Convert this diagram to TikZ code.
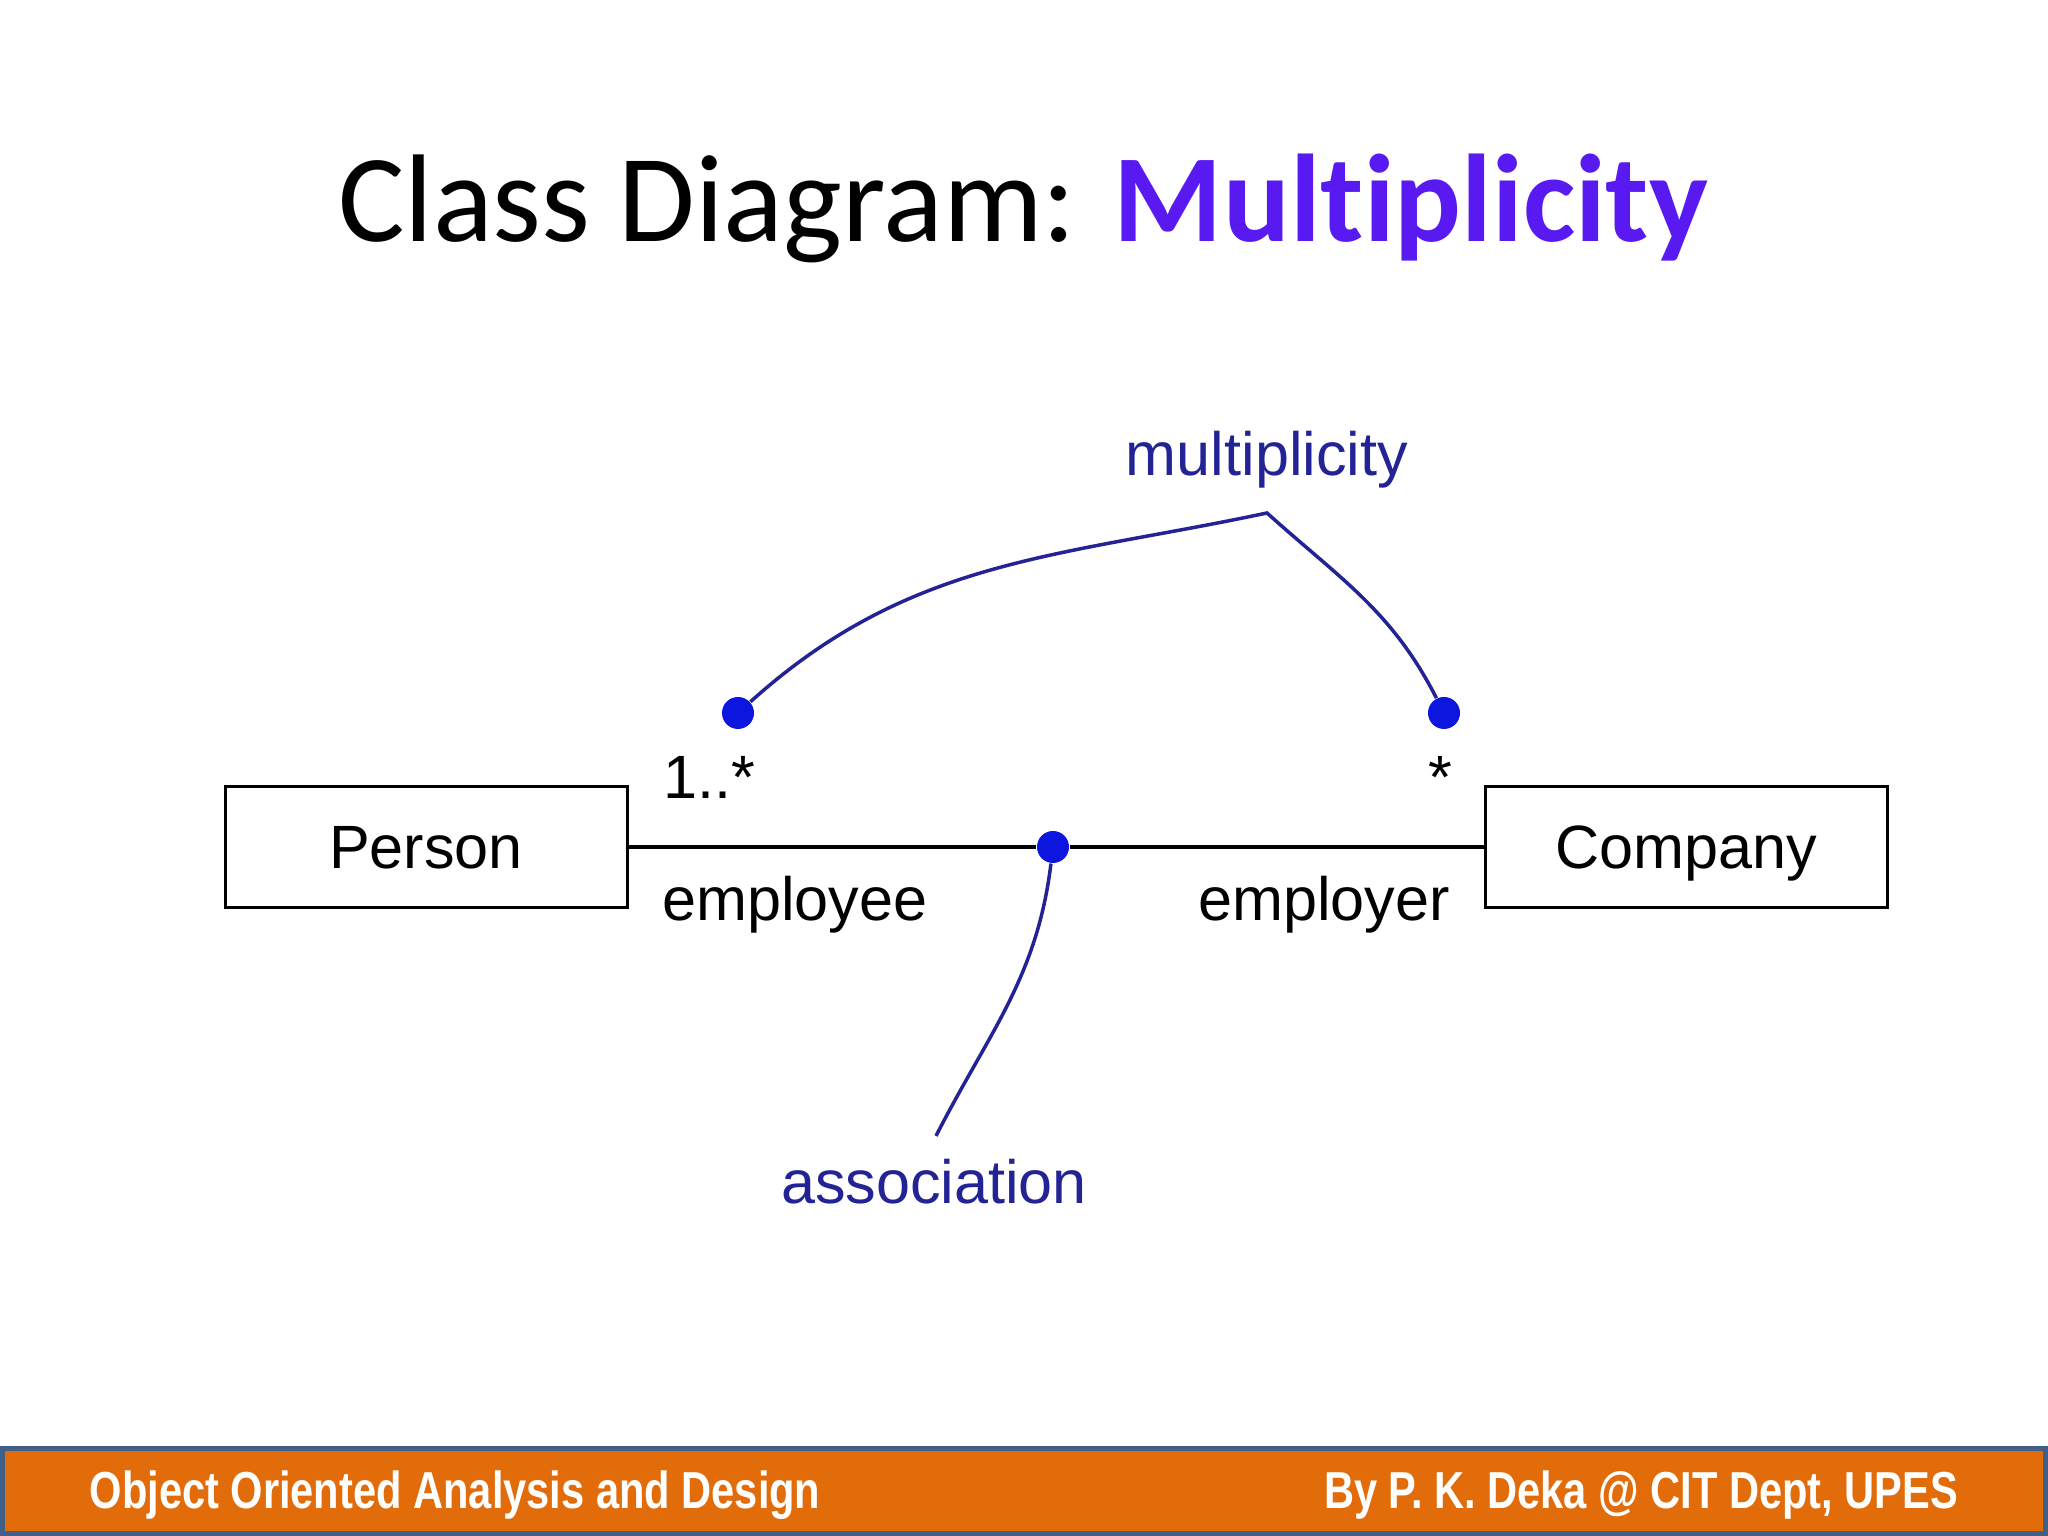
\documentclass[tikz,border=0pt]{standalone}
\usepackage{fontspec}
\setmainfont{Liberation Sans}
\newfontfamily\titlefont{Carlito}[Ligatures=NoCommon]
\newfontfamily\footfont{Liberation Sans}[FakeStretch=0.8]
\definecolor{titlepurple}{RGB}{88,26,240}
\definecolor{noteblue}{RGB}{35,35,150}
\definecolor{dotblue}{RGB}{12,22,222}
\definecolor{footorange}{RGB}{227,108,10}
\definecolor{footedge}{RGB}{65,95,135}

\tikzset{
  umltext/.style={font=\fontsize{17.4}{20}\selectfont},
  classbox/.style={umltext, draw, line width=0.03cm, minimum width=4.02cm, minimum height=1.21cm, text height=0.44cm, text depth=0pt},
  notetext/.style={umltext, text=noteblue},
  bluedot/.style={circle, fill=dotblue, inner sep=0pt, minimum size=0.32cm},
  noteline/.style={draw=noteblue, line width=0.035cm},
  foottext/.style={text=white, inner sep=0pt, font=\footfont\bfseries\fontsize{14.8}{17}\selectfont}
}

\begin{document}
\begin{tikzpicture}
\useasboundingbox (0,0) rectangle (20.48,15.36);
\fill[white] (0,0) rectangle (20.48,15.36);

\node[anchor=base, font=\titlefont\fontsize{35.5}{40}\selectfont] (title) at (10.23,12.94) {Class Diagram: \textcolor{titlepurple}{\bfseries Multiplicity}};

\node[classbox] (person) at (4.26,6.89) {Person};
\node[classbox] (company) at (16.865,6.89) {Company};
\node[bluedot] (assocdot) at (10.53,6.89) {};
\draw[line width=0.035cm] (person.east) -- (assocdot) -- (company.west);

\node[umltext, anchor=base west, inner sep=0pt] (lowmult) at (6.63,7.37) {1..*};
\node[umltext, anchor=base] (highmult) at (14.40,7.37) {*};
\node[umltext, anchor=base] (employee) at (7.95,6.15) {employee};
\node[umltext, anchor=base] (employer) at (13.24,6.15) {employer};

\node[bluedot] (multdotl) at (7.38,8.23) {};
\node[bluedot] (multdotr) at (14.44,8.23) {};
\coordinate (multapex) at (12.67,10.23);
\node[notetext] (multlabel) at (12.67,10.76) {multiplicity};
\draw[noteline] (multdotl) to[out=42,in=192] (multapex) to[out=-42,in=117] (multdotr);

\node[notetext] (assoclabel) at (9.34,3.54) {association};
\coordinate (assocend) at (9.36,4.00);
\draw[noteline] (assocdot) to[out=-97,in=63] (assocend);

\draw[footedge, fill=footorange, line width=0.05cm] (0.025,0.025) rectangle (20.455,0.87);
\node[foottext, anchor=west] (course) at (0.89,0.41) {Object Oriented Analysis and Design};
\node[foottext, anchor=east] (author) at (19.59,0.41) {By P. K. Deka @ CIT Dept, UPES};
\end{tikzpicture}
\end{document}
